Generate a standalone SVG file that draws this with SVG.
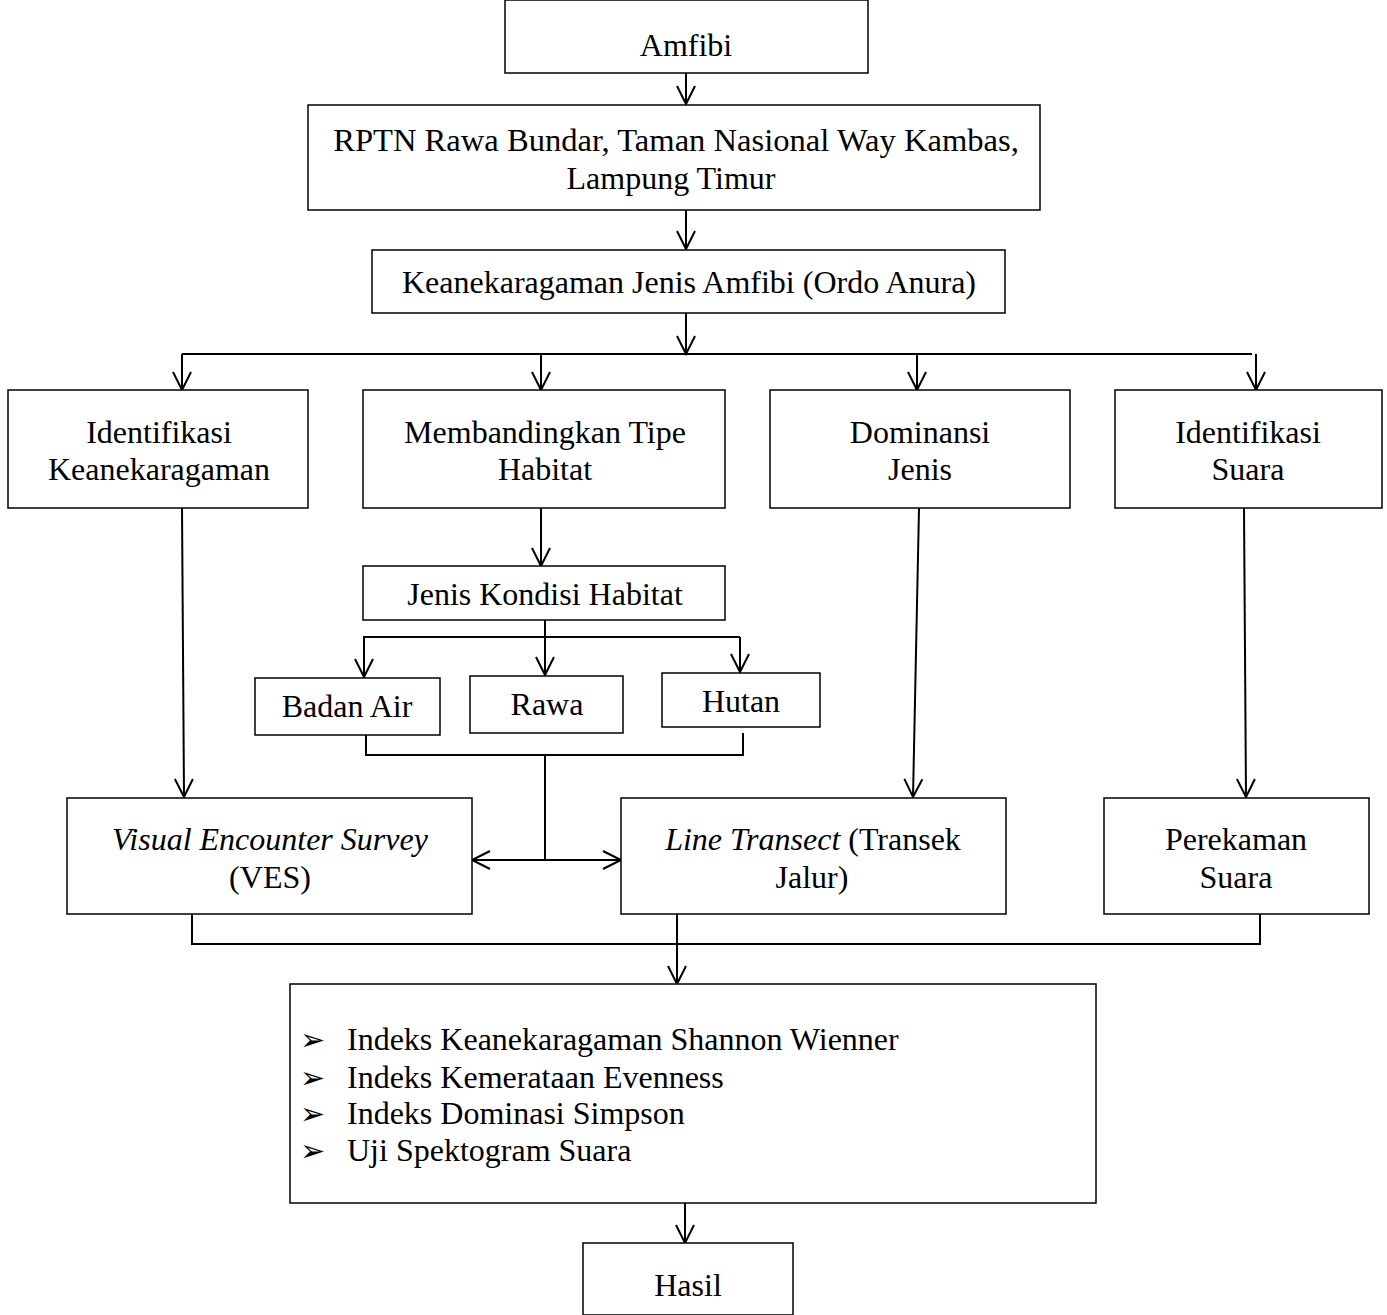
<svg xmlns="http://www.w3.org/2000/svg" width="1387" height="1315" viewBox="0 0 1387 1315">
<defs>
<marker id="arr" markerUnits="userSpaceOnUse" markerWidth="24" markerHeight="24" viewBox="-20 -12 24 24" refX="0" refY="0" orient="auto">
<path d="M-18,-9 L0,0 L-18,9" fill="none" stroke="#000" stroke-width="2"/>
</marker>
</defs>
<style>
rect{fill:#fff;stroke:#000;stroke-width:1.5}
text{font-family:"Liberation Serif","Times New Roman",serif;font-size:32px;fill:#000;text-anchor:middle}
.l{text-anchor:start}
.c line,.c polyline{stroke:#000;stroke-width:2;fill:none}
.b{font-family:"DejaVu Sans",sans-serif;font-size:30px;text-anchor:start}
</style>
<rect x="0" y="0" width="1387" height="1315" style="stroke:none"/>
<g class="c" id="connectors">
<line x1="686" y1="73" x2="686" y2="104" marker-end="url(#arr)"/>
<line x1="686" y1="210" x2="686" y2="249" marker-end="url(#arr)"/>
<line x1="686" y1="313" x2="686" y2="354" marker-end="url(#arr)"/>
<line x1="182" y1="354" x2="1252" y2="354"/>
<line x1="182" y1="354" x2="182" y2="390" marker-end="url(#arr)"/>
<line x1="541" y1="354" x2="541" y2="390" marker-end="url(#arr)"/>
<line x1="917" y1="354" x2="917" y2="390" marker-end="url(#arr)"/>
<line x1="1256" y1="354" x2="1256" y2="390" marker-end="url(#arr)"/>
<line x1="541" y1="508" x2="541" y2="566" marker-end="url(#arr)"/>
<line x1="545" y1="620" x2="545" y2="675" marker-end="url(#arr)"/>
<line x1="363" y1="637" x2="740" y2="637"/>
<line x1="364" y1="637" x2="364" y2="677" marker-end="url(#arr)"/>
<line x1="740" y1="637" x2="740" y2="672" marker-end="url(#arr)"/>
<polyline points="366,735 366,755 743,755 743,733"/>
<line x1="545" y1="755" x2="545" y2="860"/>
<line x1="545" y1="860" x2="472" y2="860" marker-end="url(#arr)"/>
<line x1="545" y1="860" x2="621" y2="860" marker-end="url(#arr)"/>
<line x1="182" y1="508" x2="184" y2="797" marker-end="url(#arr)"/>
<line x1="919" y1="508" x2="913" y2="797" marker-end="url(#arr)"/>
<line x1="1244" y1="508" x2="1246" y2="797" marker-end="url(#arr)"/>
<polyline points="192,914 192,944 1260,944 1260,914"/>
<line x1="677" y1="914" x2="677" y2="984" marker-end="url(#arr)"/>
<line x1="685" y1="1203" x2="685" y2="1243" marker-end="url(#arr)"/>
</g>
<g id="n-amfibi"><rect x="505" y="0" width="363" height="73"/><text x="686" y="56">Amfibi</text></g>
<g id="n-rptn"><rect x="308" y="105" width="732" height="105"/><text x="676" y="151" style="font-size:32.6px">RPTN Rawa Bundar, Taman Nasional Way Kambas,</text><text x="671" y="189">Lampung Timur</text></g>
<g id="n-keanekaragaman"><rect x="372" y="250" width="633" height="63"/><text x="689" y="293">Keanekaragaman Jenis Amfibi (Ordo Anura)</text></g>
<g id="n-idk"><rect x="8" y="390" width="300" height="118"/><text x="159" y="443">Identifikasi</text><text x="159" y="480">Keanekaragaman</text></g>
<g id="n-membandingkan"><rect x="363" y="390" width="362" height="118"/><text x="545" y="443">Membandingkan Tipe</text><text x="545" y="480">Habitat</text></g>
<g id="n-dominansi"><rect x="770" y="390" width="300" height="118"/><text x="920" y="443">Dominansi</text><text x="920" y="480">Jenis</text></g>
<g id="n-ids"><rect x="1115" y="390" width="267" height="118"/><text x="1248" y="443">Identifikasi</text><text x="1248" y="480">Suara</text></g>
<g id="n-jkh"><rect x="363" y="566" width="362" height="54"/><text x="545" y="605">Jenis Kondisi Habitat</text></g>
<g id="n-badan"><rect x="255" y="678" width="185" height="57"/><text x="347" y="717">Badan Air</text></g>
<g id="n-rawa"><rect x="470" y="676" width="153" height="57"/><text x="547" y="715">Rawa</text></g>
<g id="n-hutan"><rect x="662" y="673" width="158" height="54"/><text x="741" y="712">Hutan</text></g>
<g id="n-ves"><rect x="67" y="798" width="405" height="116"/><text x="270" y="850"><tspan font-style="italic">Visual Encounter Survey</tspan></text><text x="270" y="888">(VES)</text></g>
<g id="n-lt"><rect x="621" y="798" width="385" height="116"/><text x="813" y="850"><tspan font-style="italic">Line Transect</tspan> (Transek</text><text x="812" y="888">Jalur)</text></g>
<g id="n-perekaman"><rect x="1104" y="798" width="265" height="116"/><text x="1236" y="850">Perekaman</text><text x="1236" y="888">Suara</text></g>
<g id="n-indeks"><rect x="290" y="984" width="806" height="219"/>
<text class="b" x="300" y="1050">➢</text><text class="l" x="347" y="1050">Indeks Keanekaragaman Shannon Wienner</text>
<text class="b" x="300" y="1088">➢</text><text class="l" x="347" y="1088">Indeks Kemerataan Evenness</text>
<text class="b" x="300" y="1124">➢</text><text class="l" x="347" y="1124">Indeks Dominasi Simpson</text>
<text class="b" x="300" y="1161">➢</text><text class="l" x="347" y="1161">Uji Spektogram Suara</text>
</g>
<g id="n-hasil"><rect x="583" y="1243" width="210" height="72"/><text x="688" y="1296">Hasil</text></g>
</svg>
